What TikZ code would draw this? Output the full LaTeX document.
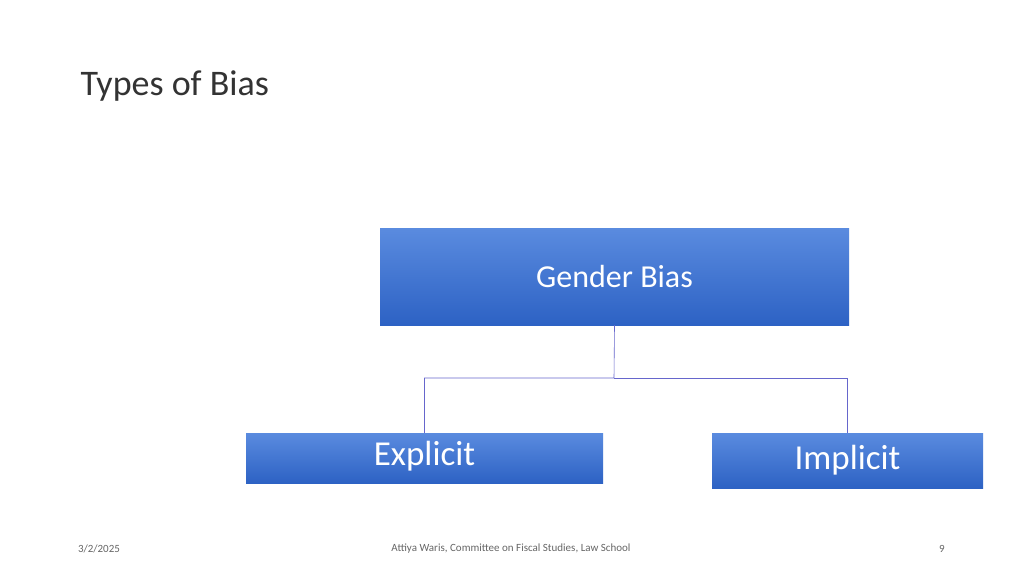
\documentclass[tikz,border=0pt]{standalone}
\usepackage{fontspec}
\setmainfont{Carlito}
\begin{document}
\begin{tikzpicture}[x=1pt,y=-1pt]
\useasboundingbox[fill=white] (0,0) rectangle (1024,576);
\tikzset{bluebox/.style={top color=blue!45!cyan!30!blue!70!white, bottom color=blue!60!black!90!cyan, draw=none, text=white, inner sep=0pt},
 conn/.style={draw=blue!50!gray!80, line width=0.6pt}}
\colorlet{topc}{blue!55!cyan!40!white}
\definecolor{tc}{HTML}{5A8BDF}
\definecolor{bc}{HTML}{2D62C4}
\tikzset{bluebox/.style={top color=tc, bottom color=bc, draw=none, text=white, inner sep=0pt}}
\node[anchor=west, font=\fontsize{36}{40}\selectfont, text=black!80] (title) at (77,86) {Types of Bias};
\node[bluebox, minimum width=469pt, minimum height=97pt, font=\fontsize{32}{36}\selectfont] (g) at (614.5,276.5) {Gender Bias};
\node[bluebox, minimum width=357pt, minimum height=50pt] (e) at (424.5,458) {};
\node[text=white, font=\fontsize{35}{40}\selectfont] (et) at (424.5,456) {Explicit};
\node[bluebox, minimum width=271pt, minimum height=55pt, font=\fontsize{35}{40}\selectfont] (i) at (847.5,460.5) {Implicit};
\coordinate (m) at (614,378);
\draw[conn] (g.south) -- (m) -| (e.north);
\draw[conn] (m) -| (i.north);
\node[font=\fontsize{11}{13}\selectfont, text=black!60] (d) at (99,549) {3/2/2025};
\node[font=\fontsize{11}{13}\selectfont, text=black!60] (f) at (511,549) {Attiya Waris, Committee on Fiscal Studies, Law School};
\node[font=\fontsize{11}{13}\selectfont, text=black!60] (p) at (942,549) {9};
\end{tikzpicture}
\end{document}
